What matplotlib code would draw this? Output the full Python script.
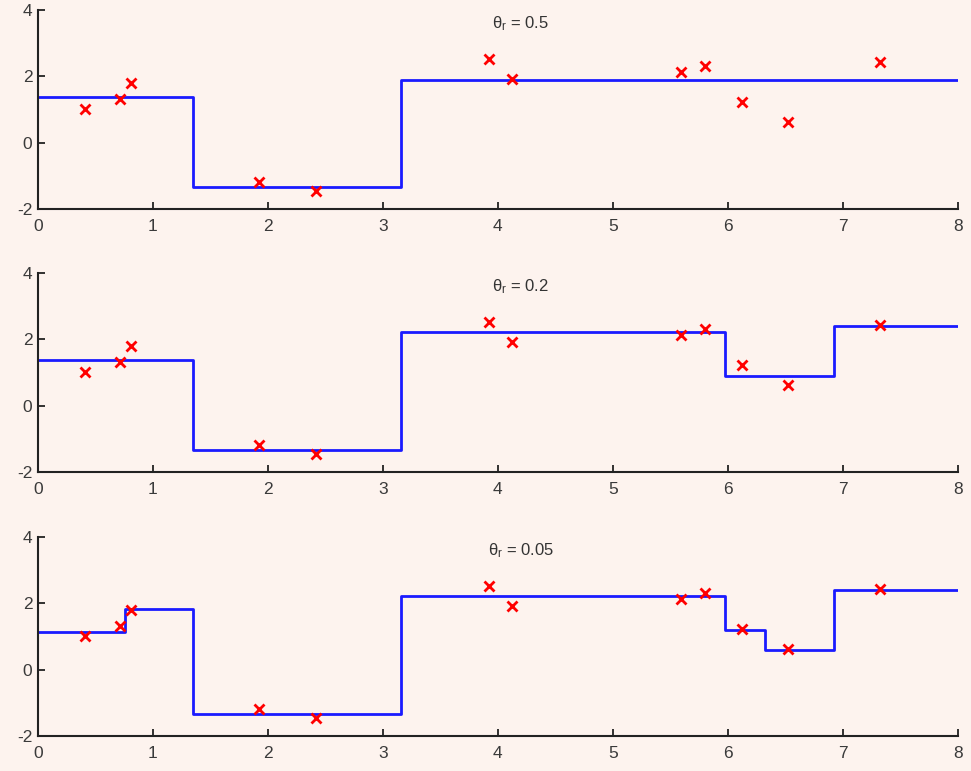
import numpy as np
import matplotlib
matplotlib.use("Agg")
import matplotlib.pyplot as plt

plt.rcParams["font.family"] = ["Liberation Sans", "DejaVu Sans"]
plt.rcParams["mathtext.default"] = "regular"
plt.rcParams["axes.unicode_minus"] = False

BG = "#fdf3ee"

# observed points (same in every panel)
x_obs = [0.41, 0.71, 0.81, 1.92, 2.42, 3.92, 4.12, 5.59, 5.8, 6.12, 6.52, 7.32]
y_obs = [1.02, 1.31, 1.80, -1.18, -1.45, 2.52, 1.92, 2.13, 2.31, 1.23, 0.62, 2.43]

# step fits: segment edges and level per segment
thetas = ["0.5", "0.2", "0.05"]
edges = [
    [0, 1.35, 3.16, 8],
    [0, 1.35, 3.16, 5.97, 6.92, 8],
    [0, 0.76, 1.35, 3.16, 5.97, 6.32, 6.92, 8],
]
levels = [
    [1.38, -1.33, 1.88],
    [1.38, -1.33, 2.22, 0.90, 2.41],
    [1.14, 1.82, -1.33, 2.22, 1.21, 0.60, 2.41],
]

fig = plt.figure(figsize=(9.71, 7.71), dpi=100, facecolor=BG)
bottoms = [0.729, 0.388, 0.0454]

for i in range(3):
    ax = fig.add_axes([0.039, bottoms[i], 0.9476, 0.258], facecolor=BG)
    e = edges[i]
    lv = levels[i] + [levels[i][-1]]
    ax.plot(e, lv, drawstyle="steps-post", color="#1a1aff", lw=2, zorder=2)
    ax.plot(x_obs, y_obs, "x", color="#ff0000", ms=6.5, mew=2, zorder=3)
    ax.text(0.525, 0.93, r"$\theta_r$ = " + thetas[i], transform=ax.transAxes,
            ha="center", va="center", fontsize=12, color="#333333")

    ax.set_xlim(0, 8)
    ax.set_ylim(-2, 4)
    ax.set_xticks(range(9))
    ax.set_yticks([-2, 0, 2, 4])
    for s in ["top", "right"]:
        ax.spines[s].set_visible(False)
    for s in ["left", "bottom"]:
        ax.spines[s].set_linewidth(1.5)
        ax.spines[s].set_color("#222222")
    ax.tick_params(direction="in", length=5, width=1.3, labelsize=12.5,
                   labelcolor="#3a3a3a", color="#222222")
    ax.tick_params(axis="x", pad=7)
    ax.tick_params(axis="y", pad=4)

fig.savefig("out.png", dpi=100, facecolor=BG)
